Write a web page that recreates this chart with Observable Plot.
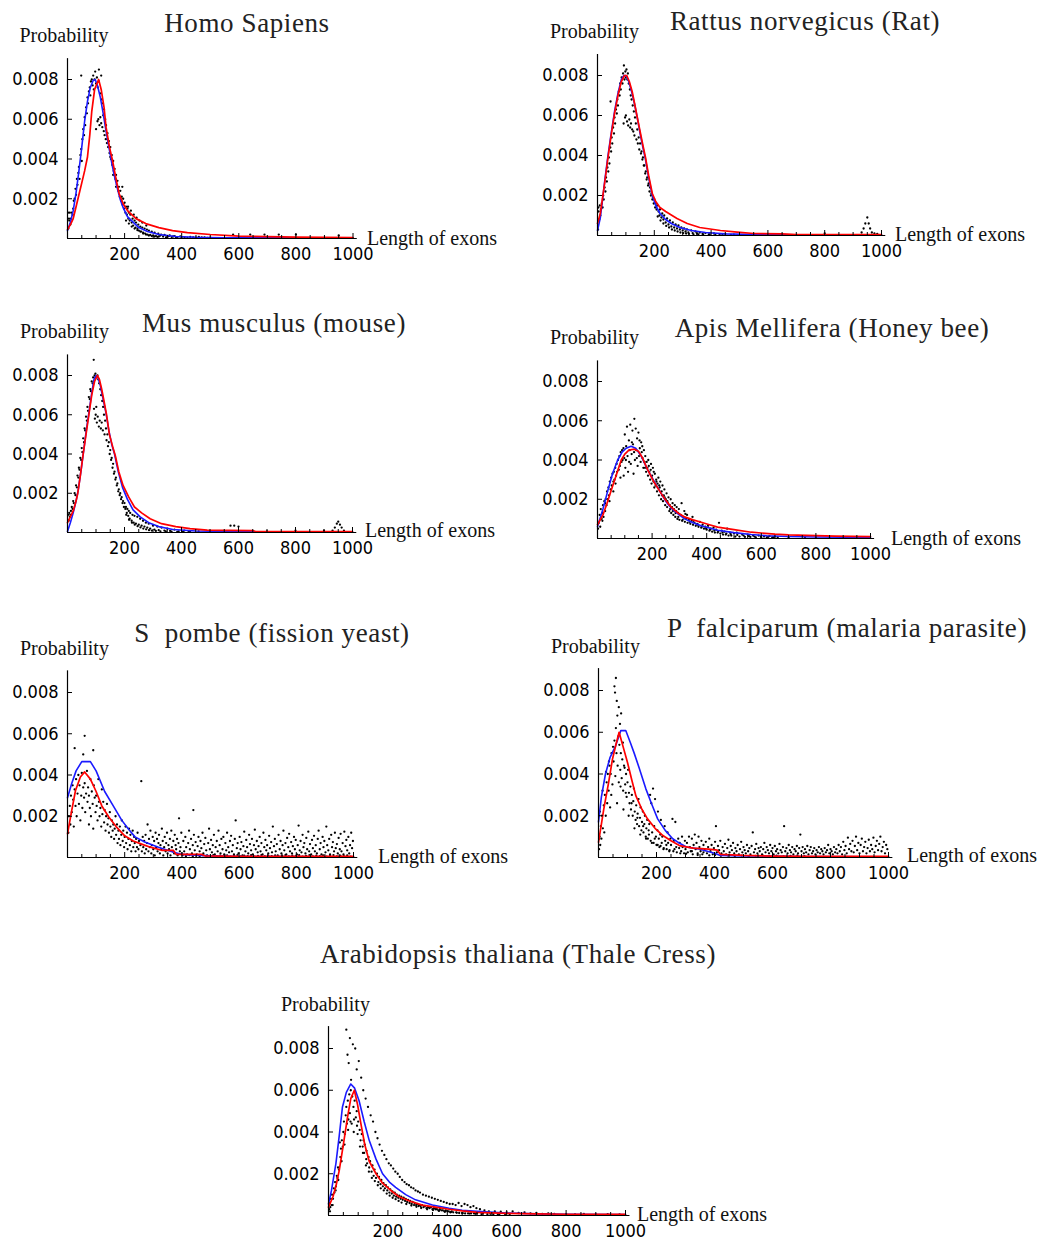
<!DOCTYPE html>
<html>
<head>
<meta charset="utf-8">
<script src="https://cdn.jsdelivr.net/npm/d3@7"></script>
<script src="https://cdn.jsdelivr.net/npm/@observablehq/plot@0.6"></script>
<style>
  html, body { margin: 0; padding: 0; background: #fff; }
  #page { position: relative; width: 1048px; height: 1243px; overflow: hidden; background: #fff; }
  #page svg { position: absolute; }
</style>
</head>
<body>
<div id="page"></div>
<script>
// ---------- DATA (x = exon length, y = probability in units of 0.001) ----------
const xMajorTicks = [200, 400, 600, 800, 1000];
const xMinorTicks = [50, 100, 150, 250, 300, 350, 450, 500, 550, 650, 700, 750, 850, 900, 950];
const yTicks = [2, 4, 6, 8];

const titles = [
  "Homo Sapiens",
  "Rattus norvegicus (Rat)",
  "Mus musculus (mouse)",
  "Apis Mellifera (Honey bee)",
  "S  pombe (fission yeast)",
  "P  falciparum (malaria parasite)",
  "Arabidopsis thaliana (Thale Cress)"
];

const homoBlue = [[0,0.4],[10,0.8],[20,1.4],[30,2.3],[40,3.4],[50,4.6],[60,5.9],[70,6.9],[80,7.6],[90,7.95],[97,8.0],[105,7.7],[115,7.1],[125,6.3],[135,5.4],[145,4.6],[155,3.8],[165,3.1],[175,2.5],[185,1.95],[195,1.55],[210,1.1],[228,0.85],[250,0.55],[280,0.35],[320,0.2],[380,0.1],[450,0.06],[550,0.04],[700,0.03],[1000,0.02]];
const homoRed = [[0,0.45],[12,0.75],[20,1.0],[30,1.6],[40,2.2],[50,2.8],[60,3.4],[70,4.1],[78,5.2],[85,6.4],[95,7.5],[109,8.0],[118,7.5],[128,6.6],[135,5.6],[147,4.6],[158,3.9],[170,3.0],[181,2.25],[195,1.75],[210,1.4],[240,1.0],[274,0.75],[320,0.55],[368,0.4],[420,0.3],[500,0.2],[600,0.12],[700,0.09],[800,0.07],[1000,0.05]];
const homoDots = [[2,1.3],[3,0.5],[5,1.0],[6,0.9],[8,1.3],[10,0.7],[12,1.0],[15,1.3],[18,1.2],[20,1.5],[22,1.9],[25,2.0],[28,2.5],[30,2.2],[33,3.0],[35,2.7],[38,3.3],[40,3.6],[42,3.0],[45,4.2],[48,4.5],[48,8.2],[50,3.9],[52,5.0],[55,5.5],[58,5.2],[60,6.1],[62,5.7],[65,6.6],[68,6.3],[70,7.1],[72,6.8],[75,7.4],[78,7.6],[80,7.2],[82,7.9],[85,8.0],[88,7.7],[90,8.2],[92,7.5],[95,8.0],[97,8.4],[100,7.8],[100,5.5],[103,8.1],[105,5.9],[106,7.6],[108,6.0],[110,7.9],[110,8.5],[112,5.7],[114,7.3],[115,6.1],[118,8.2],[118,5.8],[120,7.0],[122,5.6],[124,6.8],[125,6.2],[127,5.4],[128,6.5],[130,5.2],[132,6.0],[134,5.0],[135,5.7],[138,4.8],[140,5.3],[142,4.6],[145,4.9],[147,4.3],[150,4.6],[152,4.0],[155,4.2],[157,3.7],[160,3.9],[162,3.4],[165,3.5],[168,3.0],[170,3.2],[173,2.7],[175,2.9],[178,2.4],[180,2.6],[183,2.1],[185,2.4],[188,1.9],[190,2.1],[192,2.6],[193,1.7],[195,2.0],[198,1.5],[200,1.8],[203,1.3],[205,1.6],[208,1.2],[210,1.5],[213,1.0],[215,1.3],[218,0.9],[220,1.2],[225,0.8],[228,1.0],[230,0.65],[235,0.9],[238,0.55],[240,0.8],[245,0.5],[248,0.7],[250,0.4],[255,0.6],[258,0.35],[262,0.55],[265,0.3],[270,0.5],[272,0.25],[278,0.45],[280,0.2],[285,0.4],[290,0.18],[295,0.35],[300,0.15],[305,0.3],[310,0.12],[318,0.25],[320,0.1],[328,0.2],[335,0.1],[340,0.18],[350,0.08],[358,0.15],[365,0.07],[375,0.12],[385,0.06],[395,0.1],[410,0.05],[430,0.08],[450,0.04],[470,0.06],[490,0.03],[580,0.2],[640,0.2],[690,0.2],[740,0.2],[800,0.2],[950,0.15]];
const homoTail = [[140,5.0],[150,4.1],[160,3.2],[170,2.6],[205,0.9],[212,1.6],[215,0.75],[222,1.4],[225,0.6],[232,1.2],[235,0.5],[242,1.05],[245,0.42],[252,0.9],[255,0.35],[262,0.8],[265,0.25],[275,0.2],[276,0.65],[285,0.15],[295,0.12],[305,0.1],[315,0.08],[325,0.15],[345,0.05],[355,0.12],[370,0.1],[380,0.04],[400,0.07],[420,0.03],[440,0.05],[460,0.08],[480,0.05],[500,0.04]];

const ratBlue = [[0,0.25],[10,0.9],[17,1.7],[26,2.8],[36,3.9],[48,5.1],[60,6.2],[72,7.1],[84,7.8],[93,8.0],[100,8.0],[110,7.7],[120,7.2],[130,6.6],[140,5.9],[150,5.1],[160,4.4],[169,3.8],[180,2.9],[193,2.0],[205,1.5],[220,1.1],[240,0.8],[260,0.6],[290,0.4],[330,0.25],[380,0.15],[450,0.08],[550,0.05],[700,0.04],[1000,0.03]];
const ratRed = [[0,0.6],[10,1.1],[17,1.8],[26,2.7],[36,3.8],[48,5.0],[60,6.1],[72,7.0],[84,7.7],[95,8.0],[103,8.0],[112,7.7],[122,7.2],[132,6.5],[140,5.9],[150,5.2],[160,4.5],[169,3.9],[180,3.0],[193,2.1],[205,1.7],[220,1.4],[240,1.2],[257,1.05],[280,0.85],[316,0.6],[360,0.4],[433,0.25],[492,0.17],[550,0.1],[650,0.08],[700,0.05],[1000,0.05]];
const ratDots = [[2,0.3],[3,1.4],[4,1.2],[6,0.8],[8,1.5],[10,1.0],[12,1.3],[15,1.6],[18,1.4],[20,2.0],[22,1.8],[25,2.4],[28,2.2],[30,2.9],[33,2.7],[35,3.4],[38,3.2],[40,3.9],[42,3.6],[45,4.4],[46,6.7],[48,4.2],[50,4.9],[52,4.6],[55,5.4],[58,5.1],[60,5.9],[62,5.6],[65,6.3],[68,6.1],[70,6.8],[72,6.5],[75,7.2],[78,7.0],[80,7.6],[82,7.3],[85,7.9],[88,7.6],[90,8.1],[92,5.6],[93,8.5],[95,7.8],[97,5.9],[98,8.2],[100,6.0],[100,7.9],[102,8.3],[104,5.7],[105,7.8],[107,8.1],[108,5.5],[110,7.6],[112,5.8],[114,7.3],[115,5.4],[117,7.0],[118,5.6],[120,6.8],[122,5.3],[124,6.5],[126,5.2],[128,6.2],[130,5.0],[132,5.9],[135,5.6],[137,4.8],[140,5.3],[142,4.6],[145,4.9],[147,4.3],[150,4.6],[153,4.1],[155,4.2],[158,3.8],[160,3.9],[163,3.5],[165,3.5],[168,3.1],[170,3.2],[173,2.8],[175,2.9],[178,2.5],[180,2.6],[183,2.2],[185,2.4],[188,2.0],[190,2.1],[193,1.8],[195,1.9],[198,1.6],[200,1.8],[203,1.4],[205,1.6],[208,1.3],[210,1.5],[215,1.2],[218,1.0],[220,1.3],[225,0.9],[228,1.1],[232,0.8],[235,1.0],[240,0.65],[245,0.85],[250,0.55],[255,0.75],[260,0.45],[265,0.65],[270,0.4],[275,0.55],[280,0.35],[285,0.5],[290,0.3],[295,0.4],[300,0.25],[305,0.35],[310,0.2],[315,0.3],[320,0.15],[330,0.25],[335,0.12],[345,0.2],[350,0.1],[360,0.15],[370,0.08],[380,0.12],[395,0.06],[410,0.1],[430,0.05],[450,0.08],[480,0.04],[800,0.1],[930,0.15],[937,0.35],[943,0.6],[950,0.9],[955,0.6],[960,0.35],[966,0.15],[975,0.1],[985,0.08]];
const ratTail = [[212,0.95],[222,0.75],[232,0.6],[242,0.48],[252,0.4],[262,0.3],[272,0.25],[282,0.2],[292,0.15],[302,0.12],[312,0.1],[322,0.08],[338,0.06],[355,0.05],[372,0.04],[392,0.05],[415,0.03],[440,0.04],[470,0.03]];

const mouseBlue = [[0,0.05],[10,0.5],[20,1.0],[30,1.6],[38,2.2],[48,3.2],[57,4.2],[66,5.2],[75,6.1],[85,7.1],[93,7.8],[100,8.0],[107,7.9],[115,7.5],[125,6.8],[135,6.1],[145,5.2],[155,4.5],[165,4.0],[178,3.1],[193,2.3],[210,1.7],[230,1.15],[255,0.8],[285,0.5],[320,0.3],[370,0.15],[450,0.08],[600,0.04],[1000,0.03]];
const mouseRed = [[0,0.5],[10,0.8],[20,1.1],[30,1.6],[36,2.0],[45,2.9],[55,4.0],[65,5.0],[75,6.0],[85,7.0],[95,7.7],[105,8.0],[112,7.8],[120,7.3],[128,6.7],[137,6.0],[147,5.0],[158,4.4],[168,3.9],[180,3.1],[195,2.4],[215,1.8],[235,1.3],[260,1.0],[290,0.7],[330,0.45],[380,0.3],[430,0.2],[490,0.12],[650,0.1],[660,0.05],[1000,0.05]];
const mouseDots = [[2,0.9],[4,0.6],[6,1.0],[8,0.8],[10,0.9],[12,1.1],[15,1.3],[18,1.2],[20,1.6],[22,1.5],[25,2.0],[28,1.9],[30,2.4],[33,2.3],[35,2.9],[38,2.8],[40,3.3],[42,3.2],[45,3.8],[48,3.7],[50,4.3],[52,4.1],[55,4.8],[58,4.6],[60,5.3],[62,5.2],[65,5.9],[68,5.7],[70,6.4],[72,6.2],[75,6.9],[78,6.8],[80,7.3],[82,7.2],[85,7.7],[88,7.6],[90,7.9],[92,8.8],[93,6.3],[95,8.0],[96,5.8],[98,8.1],[99,6.0],[100,7.9],[101,6.4],[103,5.6],[105,8.0],[106,5.9],[108,7.8],[110,5.4],[111,7.6],[113,5.7],[115,7.3],[117,5.3],[118,7.0],[120,5.6],[122,6.7],[124,5.2],[125,6.4],[128,6.0],[130,5.0],[132,5.7],[135,5.3],[137,4.7],[140,5.0],[142,4.4],[145,4.6],[148,4.0],[150,4.2],[153,3.7],[155,3.8],[158,3.3],[160,3.5],[163,3.0],[165,3.1],[168,2.7],[170,2.8],[173,2.4],[175,2.5],[178,2.1],[180,2.2],[183,1.9],[185,2.0],[188,1.7],[190,1.8],[193,1.5],[195,1.6],[198,1.3],[200,1.5],[203,1.2],[205,1.3],[208,1.0],[210,1.2],[213,0.85],[215,1.1],[218,0.7],[220,1.0],[225,0.6],[228,0.9],[232,0.5],[235,0.85],[240,0.45],[245,0.8],[250,0.4],[255,0.7],[260,0.35],[265,0.6],[270,0.3],[275,0.5],[280,0.25],[285,0.45],[290,0.2],[300,0.35],[305,0.15],[315,0.3],[320,0.12],[330,0.25],[340,0.1],[350,0.2],[360,0.08],[375,0.15],[390,0.06],[410,0.1],[430,0.05],[460,0.06],[572,0.35],[585,0.35],[600,0.3],[700,0.05],[800,0.1],[900,0.1],[930,0.1],[938,0.25],[945,0.45],[950,0.55],[956,0.4],[962,0.25],[970,0.1]];
const mouseTail = [[206,0.9],[216,0.65],[226,0.5],[236,0.4],[246,0.32],[256,0.26],[266,0.2],[276,0.16],[286,0.12],[296,0.1],[310,0.08],[326,0.06],[345,0.05],[365,0.04],[385,0.03],[405,0.04],[425,0.03]];

const beeBlue = [[0,0.6],[20,1.5],[38,2.45],[55,3.3],[74,4.0],[90,4.4],[105,4.6],[123,4.7],[140,4.6],[160,4.2],[184,3.5],[208,2.9],[233,2.3],[250,1.9],[270,1.55],[295,1.25],[319,1.0],[350,0.8],[380,0.65],[440,0.42],[500,0.3],[563,0.2],[620,0.14],[700,0.1],[800,0.08],[1000,0.05]];
const beeRed = [[0,0.7],[20,1.2],[35,1.8],[50,2.45],[68,3.2],[87,4.0],[100,4.3],[115,4.5],[135,4.55],[150,4.45],[165,4.1],[184,3.5],[208,2.85],[233,2.3],[250,1.95],[270,1.6],[295,1.3],[319,1.1],[350,0.95],[380,0.83],[410,0.7],[440,0.58],[500,0.45],[563,0.32],[600,0.28],[650,0.22],[700,0.18],[800,0.15],[870,0.12],[1000,0.1]];
const beeDots = [[2,0.5],[5,0.8],[8,1.2],[10,0.6],[12,1.5],[15,1.0],[18,1.3],[20,1.7],[22,1.1],[25,1.9],[28,1.4],[30,2.0],[33,1.7],[35,2.4],[38,2.0],[40,2.6],[42,2.2],[45,2.9],[48,2.5],[50,3.1],[52,2.7],[55,3.3],[58,2.9],[60,3.4],[62,3.0],[65,3.6],[68,3.2],[70,3.8],[72,3.4],[75,4.0],[78,3.5],[80,4.2],[82,3.7],[85,4.4],[88,3.9],[90,4.5],[92,4.0],[95,4.6],[98,4.1],[100,5.3],[102,3.6],[105,4.7],[108,5.7],[110,4.2],[112,3.4],[115,5.0],[118,4.5],[120,5.8],[122,3.8],[125,4.3],[128,5.5],[130,4.8],[132,3.3],[135,6.1],[137,4.0],[140,5.6],[142,4.5],[145,5.1],[147,3.7],[150,5.4],[152,4.2],[155,4.6],[158,3.9],[160,4.9],[162,4.4],[165,4.1],[168,3.6],[170,4.5],[172,3.9],[175,4.2],[178,3.4],[180,3.9],[183,3.6],[185,3.2],[188,3.7],[190,3.4],[193,3.0],[195,3.5],[198,2.8],[200,3.2],[203,3.6],[205,2.9],[208,2.6],[210,3.3],[213,2.7],[215,3.0],[218,2.4],[220,2.8],[223,3.1],[225,2.2],[228,2.6],[230,2.9],[233,2.0],[235,2.4],[238,2.7],[240,1.9],[243,2.2],[245,2.5],[248,1.7],[250,2.0],[253,2.3],[255,1.6],[258,1.8],[260,2.1],[263,1.4],[265,1.7],[268,2.0],[270,1.3],[273,1.6],[275,1.8],[278,1.2],[280,1.5],[283,1.7],[285,1.1],[288,1.4],[290,1.6],[293,1.0],[295,1.3],[298,1.5],[300,0.95],[305,1.2],[308,1.8],[310,0.9],[315,1.1],[318,1.4],[320,0.85],[325,1.0],[328,1.2],[330,0.8],[335,0.95],[340,0.75],[345,0.9],[348,1.1],[350,0.7],[355,0.8],[360,0.65],[365,0.75],[370,0.6],[375,0.85],[380,0.55],[385,0.7],[390,0.5],[395,0.6],[400,0.45],[405,0.65],[410,0.4],[415,0.5],[420,0.35],[425,0.55],[430,0.3],[435,0.45],[440,0.3],[445,0.8],[450,0.25],[455,0.4],[460,0.2],[465,0.35],[470,0.2],[475,0.5],[480,0.15],[485,0.3],[490,0.15],[500,0.25],[505,0.1],[510,0.3],[520,0.1],[530,0.2],[540,0.08],[550,0.2],[560,0.08],[570,0.15],[580,0.06],[590,0.15],[600,0.06],[610,0.1],[620,0.05],[630,0.12],[640,0.05],[650,0.1],[660,0.05],[700,0.05],[760,0.05],[800,0.05],[850,0.05]];
const beeTail = [[18,0.9],[28,1.8],[44,1.9],[58,2.4],[66,2.8],[84,3.1],[96,3.2],[104,4.0],[116,3.9],[126,4.9],[134,4.4],[144,4.1],[154,5.0],[164,4.7],[174,3.6],[186,4.0],[196,3.8],[206,3.4],[216,2.9],[226,2.7],[236,2.2],[246,2.1],[256,1.9],[266,1.5],[276,1.4],[286,1.3],[296,1.1],[312,0.95],[322,1.25],[338,0.85],[352,0.9],[368,0.7],[382,0.6],[398,0.5],[412,0.45],[428,0.4],[442,0.35],[458,0.3],[472,0.25],[488,0.22],[512,0.18],[535,0.15],[555,0.12],[575,0.1],[598,0.1],[625,0.08],[645,0.07]];

const pombeBlue = [[0,2.9],[15,3.6],[30,4.2],[50,4.65],[80,4.65],[100,4.2],[130,3.2],[160,2.5],[190,1.8],[215,1.35],[236,1.0],[270,0.75],[318,0.5],[360,0.3],[400,0.15],[500,0.08],[600,0.05],[730,0.05],[1000,0.03]];
const pombeRed = [[0,1.15],[15,2.3],[28,3.25],[45,3.9],[60,4.15],[80,3.8],[100,3.2],[120,2.5],[145,1.95],[170,1.5],[200,1.05],[230,0.8],[259,0.65],[290,0.5],[329,0.35],[370,0.35],[380,0.15],[470,0.15],[480,0.08],[600,0.05],[1000,0.05]];
const pombeDots = [[3,1.2],[5,2.0],[8,2.5],[10,1.6],[12,3.0],[15,2.2],[18,3.5],[20,2.8],[22,1.5],[25,5.3],[25,3.3],[28,2.5],[30,3.8],[32,2.0],[35,3.1],[38,4.0],[40,2.6],[42,3.5],[45,1.8],[48,3.0],[50,4.1],[52,2.4],[55,5.0],[55,3.4],[58,2.9],[60,5.9],[60,3.6],[62,2.2],[65,3.1],[68,4.2],[70,2.7],[72,3.4],[75,1.6],[75,3.0],[78,2.4],[80,3.8],[82,2.0],[85,3.2],[88,2.6],[90,5.2],[90,1.4],[92,3.5],[95,2.9],[98,2.2],[100,3.0],[102,2.5],[105,1.8],[108,3.8],[110,2.7],[112,2.0],[115,2.4],[118,1.5],[120,3.3],[122,2.1],[125,2.7],[128,1.7],[130,2.3],[133,1.3],[135,2.0],[138,2.6],[140,1.6],[143,1.9],[145,1.2],[148,2.2],[150,1.5],[153,1.0],[155,1.8],[158,1.3],[160,1.6],[163,0.9],[165,1.4],[168,2.0],[170,1.1],[173,1.6],[175,0.7],[178,1.3],[180,0.9],[183,1.5],[185,0.6],[188,1.1],[190,1.8],[193,0.8],[195,1.3],[198,0.5],[200,1.0],[203,1.5],[205,0.7],[208,1.2],[210,0.4],[213,0.9],[215,1.4],[218,0.6],[220,1.1],[223,0.3],[225,0.8],[228,1.3],[230,0.5],[233,1.0],[235,0.7],[238,0.3],[240,0.9],[243,0.5],[245,1.2],[248,0.4],[250,0.8],[255,0.6],[258,3.7],[260,0.3],[263,1.0],[265,0.5],[268,0.8],[270,0.2],[273,1.1],[275,0.4],[278,0.7],[280,1.6],[283,0.3],[285,0.9],[288,0.5],[290,1.3],[293,0.2],[295,0.6],[298,1.0],[300,0.4],[303,0.8],[305,0.1],[308,1.2],[310,0.5],[313,0.9],[315,0.3],[318,0.7],[320,1.1],[323,0.2],[325,0.6],[328,0.4],[330,1.4],[333,0.8],[335,0.1],[338,0.5],[340,1.0],[343,0.3],[345,0.7],[348,1.2],[350,0.2],[353,0.6],[355,0.4],[358,0.9],[360,0.1],[363,1.3],[365,0.5],[368,0.3],[370,0.8],[373,0.2],[375,1.1],[378,0.6],[380,0.4],[383,0.9],[385,0.1],[388,0.7],[390,1.9],[393,0.3],[395,0.5],[398,1.2],[400,0.2],[405,0.8],[408,0.3],[412,1.0],[415,0.5],[418,0.15],[422,0.7],[425,1.3],[428,0.4],[432,0.9],[435,0.2],[438,0.6],[440,2.3],[442,1.1],[445,0.35],[448,0.75],[452,0.15],[455,0.55],[458,1.0],[462,0.3],[465,0.8],[468,0.45],[472,1.2],[475,0.2],[478,0.65],[482,0.95],[485,0.35],[488,0.1],[492,0.7],[495,1.4],[498,0.4],[502,0.85],[505,0.25],[508,0.6],[512,1.1],[515,0.15],[518,0.5],[522,0.8],[525,0.3],[528,1.3],[532,0.6],[535,0.2],[538,0.9],[542,0.4],[545,1.0],[548,0.15],[552,0.7],[555,0.35],[558,1.2],[562,0.5],[565,0.25],[568,0.8],[572,1.05],[575,0.3],[578,0.6],[582,0.15],[585,0.9],[588,1.8],[592,0.45],[595,0.7],[598,0.2],[602,1.0],[605,0.4],[608,0.75],[612,0.1],[615,0.55],[618,1.25],[622,0.3],[625,0.85],[628,0.5],[632,0.2],[635,1.1],[638,0.65],[642,0.35],[645,0.9],[648,0.15],[652,0.6],[655,1.35],[658,0.4],[662,0.8],[665,0.25],[668,0.55],[672,1.0],[675,0.3],[678,0.7],[682,0.15],[685,1.2],[688,0.5],[692,0.85],[695,0.35],[698,0.6],[702,0.2],[705,1.05],[708,0.45],[712,0.75],[715,0.25],[718,1.5],[722,0.55],[725,0.9],[728,0.3],[732,0.65],[735,0.1],[738,1.1],[742,0.4],[745,0.8],[748,0.2],[752,0.6],[755,1.3],[758,0.35],[762,0.7],[765,0.15],[768,0.95],[772,0.5],[775,1.15],[778,0.3],[782,0.75],[785,0.2],[788,0.55],[792,1.0],[795,0.4],[798,0.85],[802,0.15],[805,0.6],[808,1.55],[812,0.35],[815,0.8],[818,0.25],[822,1.1],[825,0.5],[828,0.7],[832,0.2],[835,0.95],[838,0.4],[842,1.25],[845,0.3],[848,0.65],[852,0.15],[855,0.85],[858,0.45],[862,1.05],[865,0.3],[868,0.6],[872,0.2],[875,0.9],[878,1.3],[882,0.4],[885,0.7],[888,0.15],[892,1.0],[895,0.5],[898,0.8],[902,0.25],[905,1.5],[908,0.6],[912,0.35],[915,0.9],[918,0.15],[922,1.1],[925,0.5],[928,0.75],[932,0.3],[935,1.2],[938,0.45],[942,0.65],[945,0.2],[948,0.95],[952,0.4],[955,1.15],[958,0.3],[962,0.7],[965,0.15],[968,1.25],[972,0.55],[975,0.85],[978,0.35],[982,1.0],[985,0.2],[988,0.6],[992,1.2],[995,0.45],[998,0.8]];
const pombeTail = [[402,0.1],[414,0.06],[426,0.12],[438,0.05],[450,0.09],[462,0.06],[474,0.11],[486,0.05],[498,0.08],[510,0.12],[522,0.05],[534,0.09],[546,0.06],[558,0.1],[570,0.04],[582,0.08],[594,0.12],[606,0.05],[618,0.09],[630,0.06],[642,0.11],[654,0.04],[666,0.08],[678,0.12],[690,0.05],[702,0.09],[714,0.06],[726,0.1],[738,0.04],[750,0.08],[762,0.12],[774,0.05],[786,0.09],[798,0.06],[810,0.11],[822,0.04],[834,0.08],[846,0.12],[858,0.05],[870,0.09],[882,0.06],[894,0.1],[906,0.04],[918,0.08],[930,0.12],[942,0.05],[954,0.09],[966,0.06],[978,0.1],[990,0.04]];

const falcBlue = [[0,1.7],[10,2.9],[24,4.0],[40,4.8],[59,5.35],[77,6.08],[94,6.08],[110,5.5],[123,5.0],[140,4.3],[163,3.3],[185,2.5],[204,1.85],[230,1.3],[256,0.9],[280,0.68],[303,0.5],[350,0.4],[400,0.2],[420,0.1],[500,0.08],[700,0.05],[1000,0.03]];
const falcRed = [[0,0.73],[18,2.3],[35,3.6],[48,4.7],[60,5.4],[71,6.0],[85,5.3],[100,4.55],[115,3.7],[129,2.95],[150,2.3],[169,1.85],[195,1.4],[222,1.05],[250,0.8],[279,0.57],[326,0.45],[380,0.4],[410,0.35],[420,0.15],[500,0.1],[600,0.07],[730,0.05],[1000,0.05]];
const falcDots = [[2,0.4],[4,1.0],[6,0.6],[8,1.5],[10,0.9],[12,2.0],[15,1.4],[18,2.5],[20,1.2],[22,3.0],[25,2.0],[28,3.6],[30,2.6],[32,4.0],[35,3.2],[38,4.4],[40,2.4],[42,4.0],[45,5.0],[48,3.5],[50,5.3],[52,4.6],[55,8.2],[55,5.6],[57,7.9],[58,3.9],[60,8.6],[60,6.2],[62,5.0],[63,7.5],[65,6.8],[66,4.4],[68,5.8],[70,7.2],[70,3.6],[72,5.4],[74,6.4],[75,4.2],[77,5.0],[78,6.9],[80,3.8],[82,4.7],[84,5.5],[85,3.2],[88,4.4],[90,4.3],[92,3.5],[95,4.0],[97,2.9],[100,3.6],[102,4.2],[105,3.1],[107,2.6],[110,3.4],[112,2.3],[115,3.0],[118,2.0],[120,2.7],[122,3.3],[125,2.2],[128,1.8],[130,2.5],[133,1.6],[135,2.1],[138,2.8],[140,1.5],[143,1.9],[145,2.4],[148,1.3],[150,1.7],[153,2.2],[155,1.2],[158,1.6],[160,2.0],[163,1.0],[165,1.4],[168,1.8],[170,0.9],[173,1.3],[175,1.6],[178,3.0],[180,0.8],[182,2.6],[185,1.2],[188,3.3],[190,0.7],[192,1.5],[195,2.8],[198,1.0],[200,0.6],[203,1.3],[205,2.2],[208,0.9],[210,0.5],[213,1.1],[215,1.8],[218,0.7],[220,1.0],[225,0.45],[228,1.5],[230,0.8],[235,0.4],[238,1.2],[240,0.7],[245,0.35],[248,0.9],[250,0.6],[255,1.85],[258,0.3],[260,0.8],[265,1.7],[268,0.5],[270,0.25],[275,0.9],[278,0.45],[280,0.7],[285,0.3],[288,1.0],[290,0.5],[295,0.2],[298,0.8],[300,0.4],[305,0.7],[308,0.25],[312,1.0],[315,0.5],[318,0.3],[322,0.9],[325,0.15],[328,0.6],[332,1.1],[335,0.4],[338,0.7],[342,0.2],[345,1.0],[348,0.5],[352,0.3],[355,0.8],[358,0.15],[362,0.6],[366,0.35],[370,0.75],[374,0.2],[378,0.5],[382,0.9],[386,0.3],[390,0.6],[394,0.15],[398,0.45],[402,0.75],[405,1.5],[408,0.25],[412,0.55],[416,0.35],[420,0.8],[424,0.2],[428,0.5],[432,0.3],[436,0.65],[440,0.15],[444,0.45],[448,0.85],[452,0.25],[456,0.55],[460,0.35],[464,0.7],[468,0.2],[472,0.45],[476,0.3],[480,0.6],[484,0.15],[488,0.4],[492,0.75],[496,0.25],[500,0.5],[504,0.35],[508,0.2],[512,0.6],[516,0.3],[520,0.45],[524,0.15],[528,0.55],[532,1.2],[536,0.25],[540,0.4],[544,0.65],[548,0.2],[552,0.45],[556,0.3],[560,0.5],[564,0.15],[568,0.4],[572,0.7],[576,0.25],[580,0.5],[584,0.35],[588,0.2],[592,0.6],[596,0.3],[600,0.45],[604,0.15],[608,0.55],[612,0.3],[616,0.4],[620,0.2],[624,0.65],[628,0.35],[632,0.25],[636,0.5],[640,1.5],[644,0.3],[648,0.45],[652,0.2],[656,0.6],[660,0.35],[664,0.25],[668,0.5],[672,0.15],[676,0.4],[680,0.3],[684,0.55],[688,0.2],[692,0.45],[696,1.1],[700,0.3],[704,0.5],[708,0.2],[712,0.4],[716,0.25],[720,0.55],[724,0.15],[728,0.35],[732,0.5],[736,0.2],[740,0.3],[744,0.45],[748,0.15],[752,0.35],[756,0.25],[760,0.5],[764,0.2],[768,0.4],[772,0.3],[776,0.15],[780,0.45],[784,0.25],[788,0.35],[792,0.6],[796,0.2],[800,0.4],[804,0.3],[808,0.15],[812,0.5],[816,0.25],[820,0.4],[824,0.2],[828,0.6],[832,0.3],[836,0.5],[840,0.15],[844,0.75],[848,0.35],[852,0.55],[856,0.2],[860,0.95],[864,0.4],[868,0.65],[872,0.3],[876,0.8],[880,0.25],[884,0.55],[888,1.0],[892,0.35],[896,0.7],[900,0.2],[904,0.6],[908,0.9],[912,0.3],[916,0.5],[920,0.75],[924,0.2],[928,0.45],[932,0.85],[936,0.3],[940,0.6],[944,0.4],[948,0.95],[952,0.25],[956,0.55],[960,0.8],[964,0.35],[968,0.65],[972,1.0],[976,0.3],[980,0.5],[984,0.75],[988,0.2],[992,0.6],[996,0.4]];
const falcTail = [[2,0.9],[5,2.2],[14,3.2],[26,4.1],[36,4.6],[44,3.0],[64,2.6],[76,3.4],[86,2.3],[94,3.1],[104,2.0],[114,2.6],[124,1.4],[134,1.9],[144,1.1],[154,1.5],[164,0.9],[174,1.1],[184,0.7],[194,0.9],[204,0.6],[214,0.55],[224,0.4],[234,0.6],[244,0.3],[262,0.4],[282,0.2],[302,0.18],[322,0.3],[342,0.12],[362,0.25],[382,0.1],[402,0.12],[422,0.08],[446,0.1],[470,0.06],[494,0.09],[518,0.05],[542,0.08],[566,0.1],[590,0.06],[614,0.09],[638,0.05],[662,0.08],[686,0.1],[710,0.06]];

const arabBlue = [[0,0.55],[10,1.2],[25,2.5],[36,3.8],[47,5.2],[60,5.9],[75,6.3],[88,6.1],[103,5.5],[120,4.5],[137,3.6],[160,2.7],[182,2.0],[205,1.6],[226,1.35],[260,1.0],[293,0.75],[350,0.5],[406,0.35],[450,0.25],[500,0.2],[600,0.12],[700,0.08],[800,0.06],[1000,0.05]];
const arabRed = [[0,0.4],[15,0.9],[25,1.4],[36,2.15],[50,3.4],[64,4.7],[75,5.6],[87,6.0],[98,5.3],[109,4.4],[122,3.4],[137,2.6],[160,2.0],[182,1.55],[210,1.2],[238,0.9],[275,0.68],[316,0.5],[360,0.4],[406,0.3],[450,0.22],[500,0.15],[600,0.1],[700,0.08],[800,0.06],[1000,0.05]];
const arabDots = [[2,0.3],[4,0.6],[6,0.4],[8,0.8],[10,0.5],[12,1.0],[15,0.8],[18,1.3],[20,1.1],[22,1.6],[25,1.4],[28,1.9],[30,1.8],[32,2.3],[35,2.2],[38,3.5],[40,2.8],[42,3.2],[45,3.6],[48,3.3],[50,4.0],[52,4.5],[55,3.9],[58,4.8],[60,5.2],[60,8.9],[62,4.4],[64,7.7],[65,5.5],[67,4.6],[68,7.3],[70,5.8],[72,8.5],[72,4.9],[75,6.0],[76,6.5],[78,4.4],[80,5.7],[82,8.2],[84,5.2],[85,4.0],[88,5.5],[90,8.0],[92,4.7],[95,5.0],[95,7.0],[98,3.9],[100,4.5],[102,7.4],[105,4.1],[108,3.6],[110,6.6],[112,3.9],[115,3.3],[117,6.0],[118,3.6],[120,3.0],[122,3.4],[125,5.6],[127,2.7],[128,3.1],[130,2.5],[133,5.2],[135,2.8],[137,2.3],[140,2.6],[142,4.8],[145,2.1],[148,2.4],[150,4.5],[152,1.9],[155,2.2],[158,4.0],[160,1.8],[163,2.0],[165,3.7],[168,1.6],[170,1.85],[172,3.4],[175,1.5],[178,1.7],[180,3.1],[183,1.4],[185,1.55],[188,2.9],[190,1.3],[193,1.45],[195,2.7],[198,1.2],[200,1.35],[203,2.5],[205,1.1],[208,1.25],[210,2.4],[213,1.05],[215,1.15],[218,2.25],[220,0.95],[223,1.1],[225,2.1],[228,0.9],[230,1.0],[233,2.0],[235,0.85],[238,0.95],[240,1.85],[243,0.8],[245,0.9],[248,1.7],[250,0.75],[253,0.85],[256,1.6],[258,0.7],[260,0.8],[263,1.5],[265,0.65],[268,0.75],[271,1.45],[273,0.6],[275,0.7],[278,1.35],[280,0.55],[283,0.65],[286,1.3],[288,0.5],[290,0.6],[293,1.2],[295,0.5],[298,0.55],[301,1.15],[303,0.45],[305,0.5],[308,1.1],[310,0.45],[315,0.5],[318,1.0],[320,0.4],[325,0.45],[328,0.95],[330,0.35],[335,0.4],[338,0.9],[340,0.35],[345,0.4],[348,0.85],[350,0.3],[355,0.35],[358,0.8],[360,0.3],[365,0.3],[368,0.75],[370,0.25],[375,0.3],[378,0.7],[380,0.25],[385,0.25],[388,0.65],[390,0.2],[395,0.25],[398,0.6],[400,0.2],[405,0.2],[408,0.55],[410,0.15],[415,0.2],[418,0.55],[420,0.15],[428,0.5],[430,0.15],[438,0.6],[440,0.12],[448,0.45],[450,0.12],[458,0.55],[460,0.1],[468,0.5],[470,0.1],[478,0.4],[480,0.1],[488,0.45],[490,0.1],[498,0.35],[500,0.1],[510,0.3],[520,0.08],[525,0.25],[540,0.2],[545,0.08],[560,0.2],[570,0.06],[580,0.18],[600,0.15],[610,0.06],[620,0.2],[640,0.12],[660,0.15],[680,0.1],[700,0.12],[720,0.08],[740,0.1],[760,0.08],[800,0.06],[830,0.05],[860,0.08],[900,0.05],[940,0.06],[980,0.05]];
const arabTail = [[5,0.2],[14,0.5],[24,1.2],[33,1.7],[44,2.6],[54,3.4],[66,4.1],[74,4.5],[86,4.6],[96,4.3],[106,3.3],[116,3.0],[126,2.4],[136,2.1],[146,1.8],[156,1.65],[166,1.45],[176,1.3],[186,1.2],[196,1.05],[206,0.95],[216,0.85],[226,0.78],[236,0.7],[246,0.62],[262,0.55],[279,0.48],[296,0.42],[312,0.36],[332,0.3],[352,0.26],[372,0.22],[392,0.18],[412,0.16],[432,0.13],[452,0.11],[475,0.09],[495,0.08],[515,0.07],[535,0.06],[555,0.06],[575,0.05],[595,0.05]];

// ---------- LAYOUT (pixel placement of each panel) ----------
const panels = [
  {title: titles[0], dots: homoDots.concat(homoTail),   blue: homoBlue,  red: homoRed,  x0: 66.5, x1000: 352, y0: 238,  y8: 79,   tx: 247, ty: 32,  lx: 367, ly: 245},
  {title: titles[1], dots: ratDots.concat(ratTail),     blue: ratBlue,   red: ratRed,   x0: 597,  x1000: 881, y0: 235,  y8: 75,   tx: 805, ty: 30,  lx: 895, ly: 241},
  {title: titles[2], dots: mouseDots.concat(mouseTail), blue: mouseBlue, red: mouseRed, x0: 67,   x1000: 352, y0: 532,  y8: 375,  tx: 274, ty: 332, lx: 365, ly: 537},
  {title: titles[3], dots: beeDots.concat(beeTail),     blue: beeBlue,   red: beeRed,   x0: 597,  x1000: 870, y0: 538,  y8: 381,  tx: 832, ty: 337, lx: 891, ly: 545},
  {title: titles[4], dots: pombeDots.concat(pombeTail), blue: pombeBlue, red: pombeRed, x0: 67,   x1000: 353, y0: 857,  y8: 692,  tx: 272, ty: 642, lx: 378, ly: 863},
  {title: titles[5], dots: falcDots.concat(falcTail),   blue: falcBlue,  red: falcRed,  x0: 598,  x1000: 888, y0: 857,  y8: 690,  tx: 847, ty: 637, lx: 907, ly: 862},
  {title: titles[6], dots: arabDots.concat(arabTail),   blue: arabBlue,  red: arabRed,  x0: 328,  x1000: 625, y0: 1215, y8: 1048, tx: 518, ty: 963, lx: 637, ly: 1221}
];

const tickFont = "'DejaVu Sans Condensed', 'DejaVu Sans', sans-serif";
const serifFont = "'Liberation Serif', 'Times New Roman', serif";
const page = document.getElementById("page");

for (const p of panels) {
  const mL = 72, mR = 40, mT = 28, mB = 34;
  const pw = p.x1000 - p.x0, ph = p.y0 - p.y8;
  const W = pw + mL + mR, H = ph + mT + mB;
  const pxPerY = ph / 8, pxPerX = pw / 1000;
  const chart = Plot.plot({
    width: W, height: H,
    marginLeft: mL, marginRight: mR, marginTop: mT, marginBottom: mB,
    x: {domain: [0, 1000], range: [mL, mL + pw]},
    y: {domain: [0, 8], range: [mT + ph, mT]},
    style: {fontFamily: tickFont, fontSize: "18px", fontStretch: "condensed", color: "black", background: "transparent", overflow: "visible"},
    marks: [
      Plot.dot(p.dots, {x: d => d[0], y: d => d[1], r: 1.15, fill: "black"}),
      Plot.line(p.blue, {x: d => d[0], y: d => d[1], stroke: "#1a1aff", strokeWidth: 1.6}),
      Plot.line(p.red, {x: d => d[0], y: d => d[1], stroke: "#ff0000", strokeWidth: 1.7}),
      Plot.ruleX([0], {y1: 0, y2: 9.05, stroke: "black", strokeWidth: 1.2}),
      Plot.ruleY([0], {x1: 0, x2: 1015, stroke: "black", strokeWidth: 1.2}),
      Plot.ruleX(xMajorTicks, {y1: 0, y2: 5 / pxPerY, stroke: "black"}),
      Plot.ruleX(xMinorTicks, {y1: 0, y2: 3 / pxPerY, stroke: "black"}),
      Plot.ruleY(yTicks, {x1: 0, x2: 5 / pxPerX, stroke: "black"}),
      Plot.axisX({ticks: xMajorTicks, tickSize: 0, tickPadding: 9, tickFormat: d => String(d), label: null}),
      Plot.axisY({ticks: yTicks, tickSize: 0, tickPadding: 9, tickFormat: d => (d / 1000).toFixed(3), label: null})
    ]
  });
  chart.style.left = (p.x0 - mL) + "px";
  chart.style.top = (p.y8 - mT) + "px";
  page.appendChild(chart);
}

// text labels overlay
const overlay = d3.create("svg")
  .attr("width", 1048).attr("height", 1243)
  .style("left", "0px").style("top", "0px")
  .style("pointer-events", "none")
  .attr("font-family", serifFont)
  .attr("fill", "#111");

for (const p of panels) {
  overlay.append("text")
    .attr("x", p.tx).attr("y", p.ty)
    .attr("text-anchor", "middle")
    .attr("font-size", 27)
    .attr("letter-spacing", 0.6)
    .style("white-space", "pre")
    .attr("fill", "#222")
    .text(p.title);
  overlay.append("text")
    .attr("x", p.x0 - 47).attr("y", p.y8 - 37)
    .attr("font-size", 20)
    .text("Probability");
  overlay.append("text")
    .attr("x", p.lx).attr("y", p.ly)
    .attr("font-size", 20)
    .text("Length of exons");
}
page.appendChild(overlay.node());
</script>
</body>
</html>
